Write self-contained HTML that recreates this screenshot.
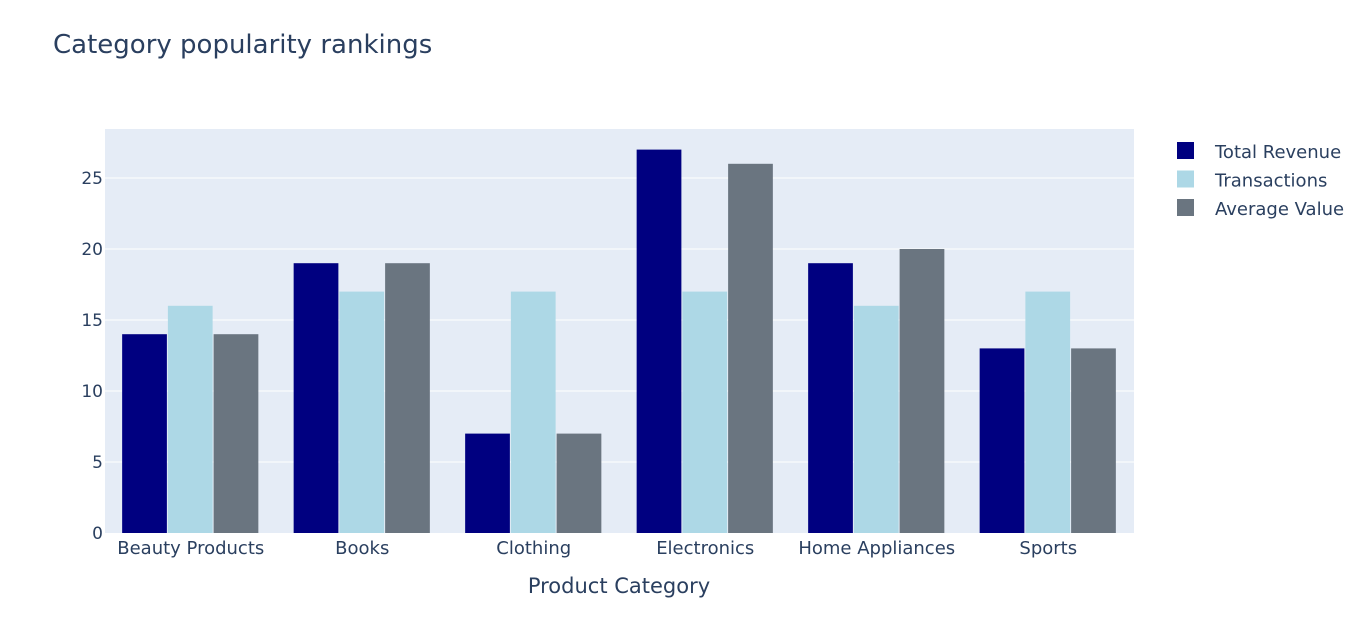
<!DOCTYPE html>
<html><head><meta charset="utf-8"><style>
body{margin:0;background:#fff;font-family:"DejaVu Sans",sans-serif;}
svg text{font-family:"DejaVu Sans",sans-serif;}
</style></head><body>
<svg id="chart" width="1357" height="613" xmlns="http://www.w3.org/2000/svg">
<text x="53" y="53" font-size="26" fill="#2a3f5f">Category popularity rankings</text>
<rect x="105" y="129" width="1029" height="404" fill="#e5ecf6"/>
<g id="grid"></g><g id="bars"></g><g id="xlabels"></g>
<text x="619" y="593" font-size="21" fill="#2a3f5f" text-anchor="middle">Product Category</text>
<g id="legend"></g>
</svg>
<script>
const categories=["Beauty Products","Books","Clothing","Electronics","Home Appliances","Sports"];
const seriesNames=["Total Revenue","Transactions","Average Value"];
const revenue=[14,19,7,27,19,13];
const transactions=[16,17,17,17,16,17];
const avgValue=[14,19,7,26,20,13];
const yTicks=[0,5,10,15,20,25];
const colors=["#000080","#add8e6","#6a7580"];
const series=[revenue,transactions,avgValue];
const NS="http://www.w3.org/2000/svg";
const x0=105,x1=1134,yb=533,pxPerUnit=14.2;
const y=v=>yb-v*pxPerUnit;
const band=(x1-x0)/categories.length;
function mk(t,a,p){const e=document.createElementNS(NS,t);for(const k in a)e.setAttribute(k,a[k]);p.appendChild(e);return e;}
const grid=document.getElementById('grid');
yTicks.forEach(t=>{
 if(t>0){const l=mk('line',{x1:x0,x2:x1,y1:y(t),y2:y(t),stroke:'#fff','stroke-width':1},grid);
 
 }
 const tx=mk('text',{x:x0-2,y:y(t)+6,'font-size':17,fill:'#2a3f5f','text-anchor':'end'},grid);
 tx.textContent=t;
 
 
});
const bars=document.getElementById('bars');
const bw=band*0.8/3;
categories.forEach((c,i)=>{
 const gx=x0+band*i+band*0.1;
 series.forEach((s,j)=>{
  const r=mk('rect',{x:gx+j*bw,y:y(s[i]),width:bw-1,height:s[i]*pxPerUnit,fill:colors[j]},bars);
  
  
 });
 const t=mk('text',{x:x0+band*(i+0.5),y:554,'font-size':18,fill:'#2a3f5f','text-anchor':'middle'},document.getElementById('xlabels'));
 t.textContent=c;
 
 
});
const lg=document.getElementById('legend');
seriesNames.forEach((n,j)=>{
 const g=mk('g',{},lg);
 
 
 mk('rect',{x:1177,y:142+j*28.5,width:17,height:17,fill:colors[j]},g);
 const t=mk('text',{x:1215,y:158+j*28.5,'font-size':18,fill:'#2a3f5f'},g);
 t.textContent=n;
});
</script>
</body></html>
